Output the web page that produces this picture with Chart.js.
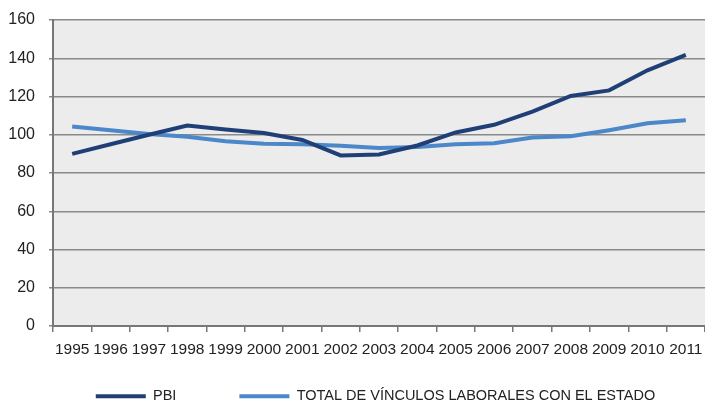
<!DOCTYPE html>
<html>
<head>
<meta charset="utf-8">
<script src="https://cdn.jsdelivr.net/npm/chart.js@4/dist/chart.umd.min.js"></script>
<style>
  html, body { margin: 0; padding: 0; background: #fff; }
  #wrap { width: 705px; height: 409px; }
</style>
</head>
<body>
<div id="wrap"><canvas id="chartPbi"></canvas></div>
<script>
const years = ["1995", "1996", "1997", "1998", "1999", "2000", "2001", "2002", "2003",
  "2004", "2005", "2006", "2007", "2008", "2009", "2010", "2011"];
const pbi = [90, 95, 100, 104.8, 102.7, 100.9, 97.3, 89.2, 89.7, 94.4, 101.2, 105.2,
  112.1, 120.3, 123.2, 133.7, 141.8];
const vinculos = [104.3, 102.3, 100.4, 99, 96.6, 95.3, 95, 94.3, 93.1, 93.6, 95, 95.6,
  98.5, 99.2, 102.4, 106, 107.6];
const yTicks = [0, 20, 40, 60, 80, 100, 120, 140, 160];

const fontFam = "'Liberation Sans', Arial, sans-serif";

// gray plot background
const plotBg = {
  id: "plotBg",
  beforeDraw(chart) {
    const { ctx, chartArea } = chart;
    ctx.save();
    ctx.fillStyle = "#ececec";
    ctx.fillRect(chartArea.left, chartArea.top, chartArea.right - chartArea.left, chartArea.bottom - chartArea.top);
    ctx.restore();
  },
};

// legend sits right of center and low in the original, with a wide gap between items
const legendNudge = {
  id: "legendNudge",
  afterLayout(chart) {
    chart.legend.left += 23;
    chart.legend.right += 23;
    chart.legend.top -= 36;
  },
};

const chartPbi = new Chart(document.getElementById("chartPbi"), {
  type: "line",
  data: {
    labels: years,
    datasets: [
      {
        label: "PBI",
        data: pbi,
        borderColor: "#213f77",
        backgroundColor: "#213f77",
        borderWidth: 4,
        pointRadius: 0,
        pointStyle: "line",
        tension: 0,
      },
      {
        label: "TOTAL DE VÍNCULOS LABORALES CON EL ESTADO",
        data: vinculos,
        borderColor: "#4b87c9",
        backgroundColor: "#4b87c9",
        borderWidth: 4,
        pointRadius: 0,
        pointStyle: "line",
        tension: 0,
      },
    ],
  },
  options: {
    responsive: true,
    maintainAspectRatio: false,
    animation: false,
    layout: { padding: { top: 20, right: 0, left: 0, bottom: 0 } },
    scales: {
      x: {
        offset: true,
        grid: {
          offset: true,
          drawOnChartArea: false,
          drawTicks: true,
          tickLength: 6,
          color: "#777",
          lineWidth: 1.5,
        },
        border: { color: "#777", width: 2 },
        ticks: {
          autoSkip: false,
          maxRotation: 0,
          color: "#222",
          padding: 8,
          font: { family: fontFam, size: 15.5 },
        },
        afterFit(scale) {
          scale.height = 36;
          scale.paddingLeft = 0;
          scale.paddingRight = 0;
        },
      },
      y: {
        min: 0,
        max: 160,
        afterBuildTicks(scale) { scale.ticks = yTicks.map((v) => ({ value: v })); },
        grid: {
          color: "#8a8a8a",
          lineWidth: 1.5,
          drawTicks: true,
          tickLength: 4,
        },
        border: { color: "#777", width: 2 },
        ticks: {
          autoSkip: false,
          color: "#222",
          padding: 14,
          font: { family: fontFam, size: 16 },
        },
        afterFit(scale) {
          scale.width = 53;
          scale.paddingTop = 0;
          scale.paddingBottom = 0;
        },
      },
    },
    plugins: {
      legend: {
        display: true,
        position: "bottom",
        maxHeight: 47,
        labels: {
          usePointStyle: true,
          pointStyleWidth: 50,
          boxHeight: 12,
          padding: 63,
          color: "#222",
          font: { family: fontFam, size: 14.5 },
        },
      },
      tooltip: { enabled: false },
    },
  },
  plugins: [plotBg, legendNudge],
});
</script>
</body>
</html>
